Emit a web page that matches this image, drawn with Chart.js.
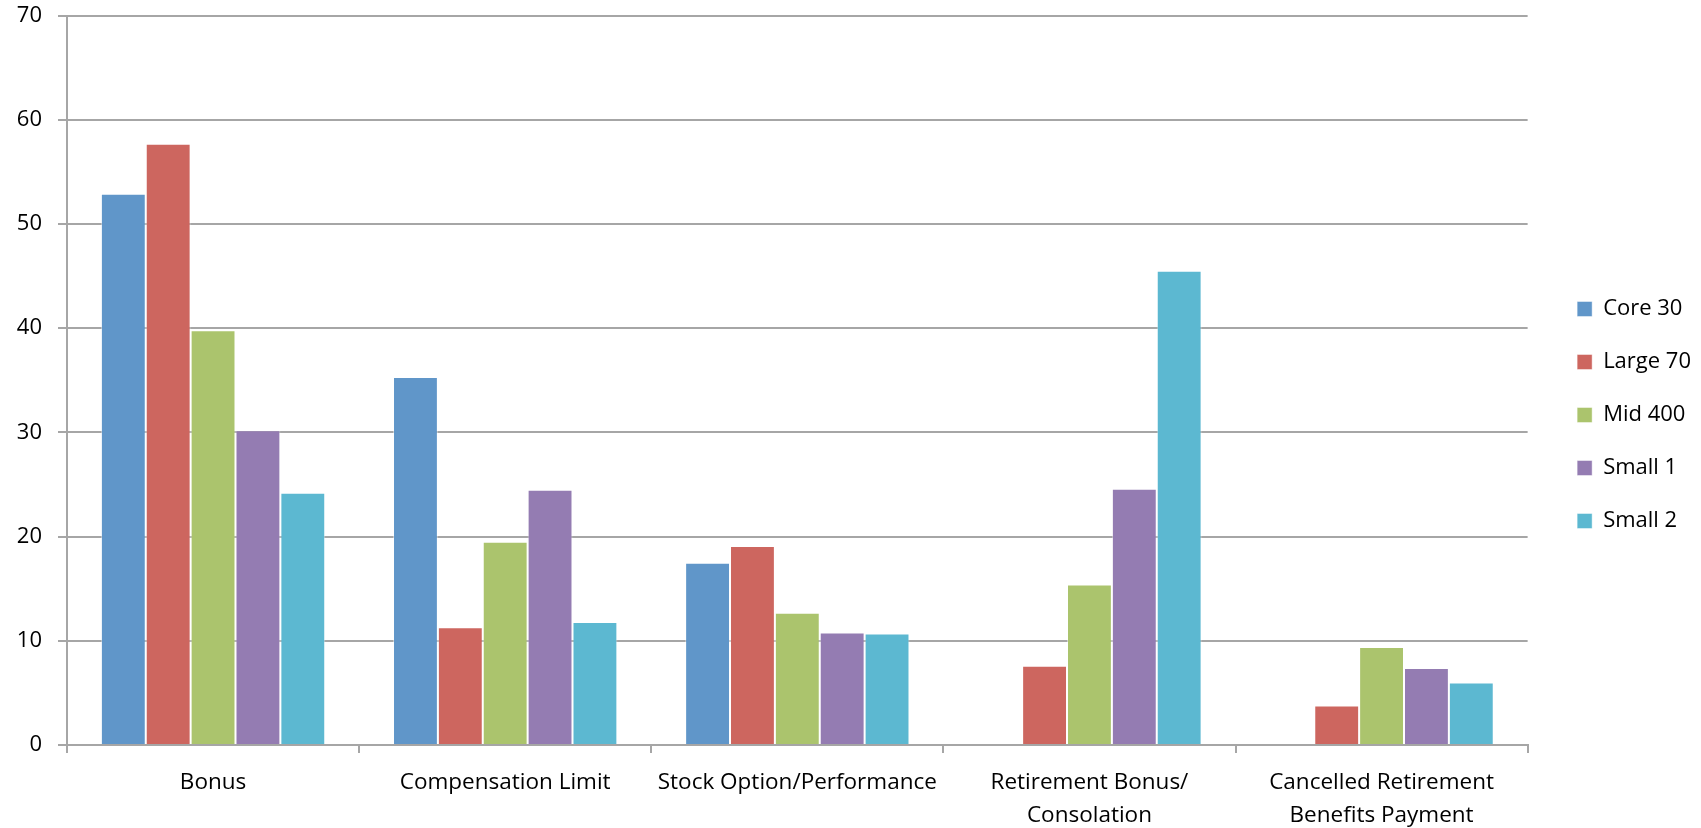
<!DOCTYPE html>
<html>
<head>
<meta charset="utf-8">
<script src="https://cdn.jsdelivr.net/npm/chart.js@4.4.1/dist/chart.umd.min.js"></script>
<style>
  html, body { margin: 0; padding: 0; background: #fff; }
  #wrap { width: 1701px; height: 828px; }
</style>
</head>
<body>
<div id="wrap"><canvas id="chart"></canvas></div>
<script>
// categories (multi-line labels as in the original)
const categories = [
    ["Bonus"],
    ["Compensation Limit"],
    ["Stock Option/Performance"],
    ["Retirement Bonus/", "Consolation"],
    ["Cancelled Retirement", "Benefits Payment"]
];

// series values
const core30  = [52.9, 35.3, 17.5, 0, 0];
const large70 = [57.7, 11.3, 19.1, 7.6, 3.8];
const mid400  = [39.8, 19.5, 12.7, 15.4, 9.4];
const small1  = [30.2, 24.5, 10.8, 24.6, 7.4];
const small2  = [24.2, 11.8, 10.7, 45.5, 6.0];

const yTicks = [0, 10, 20, 30, 40, 50, 60, 70];

const gridGrey = "#a6a6a6";
const fontFamily = "'Open Sans', 'DejaVu Sans', sans-serif";

function series(label, data, color) {
    return {
        label: label,
        data: data,
        backgroundColor: color,
        borderColor: "rgba(255,255,255,0.45)",
        borderWidth: 1,
        borderSkipped: "bottom",
        categoryPercentage: 0.768,
        barPercentage: 1.0
    };
}

new Chart(document.getElementById("chart"), {
    type: "bar",
    data: {
        labels: categories,
        datasets: [
            series("Core 30", core30, "#6096c9"),
            series("Large 70", large70, "#cd665f"),
            series("Mid 400", mid400, "#abc46d"),
            series("Small 1", small1, "#947cb2"),
            series("Small 2", small2, "#5cb8d1")
        ]
    },
    options: {
        responsive: true,
        maintainAspectRatio: false,
        animation: false,
        layout: { padding: { top: 2, left: 0, right: 0, bottom: 0 } },
        plugins: {
            tooltip: { enabled: false },
            legend: {
                position: "right",
                align: "center",
                labels: {
                    boxWidth: 15,
                    boxHeight: 15,
                    padding: 31,
                    color: "#000",
                    font: { family: fontFamily, size: 22 }
                }
            }
        },
        scales: {
            x: {
                grid: {
                    drawOnChartArea: false,
                    drawTicks: true,
                    tickLength: 8,
                    color: gridGrey,
                    lineWidth: 2
                },
                border: { color: gridGrey, width: 2 },
                ticks: {
                    color: "#000",
                    padding: 14,
                    maxRotation: 0,
                    autoSkip: false,
                    font: { family: fontFamily, size: 22.5, lineHeight: 1.43 }
                },
                afterFit: function(scale) { scale.height = 83; }
            },
            y: {
                min: 0,
                max: 70,
                afterBuildTicks: function(scale) {
                    scale.ticks = yTicks.map(v => ({ value: v }));
                },
                grid: {
                    color: gridGrey,
                    lineWidth: 2,
                    tickLength: 9
                },
                border: { color: gridGrey, width: 2 },
                ticks: {
                    color: "#000",
                    padding: 16,
                    font: { family: fontFamily, size: 22 }
                },
                afterFit: function(scale) {
                    scale.width = 67;
                    scale.paddingTop = 15.5;
                    scale.paddingBottom = 0;
                }
            },
            // empty spacer axis that keeps the legend clear of the plot
            spacer: {
                type: "linear",
                position: "right",
                display: true,
                grid: { display: false },
                border: { display: false },
                ticks: { display: false },
                afterFit: function(scale) { scale.width = 18.5; }
            }
        }
    }
});
</script>
</body>
</html>
